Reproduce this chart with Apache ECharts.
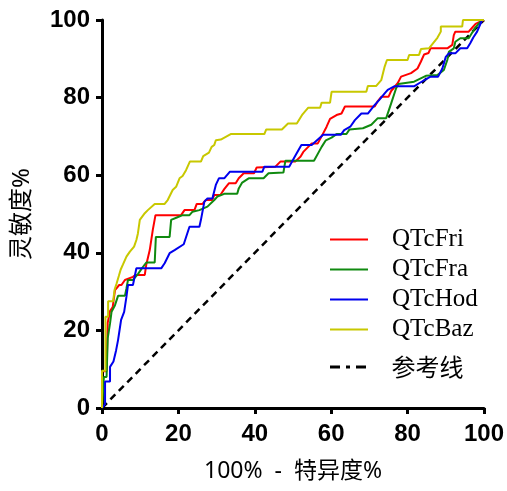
<!DOCTYPE html>
<html>
<head>
<meta charset="utf-8">
<script src="https://cdn.jsdelivr.net/npm/echarts@6/dist/echarts.min.js"></script>
<style>html,body{margin:0;padding:0;background:#fff}#c{width:507px;height:491px}</style>
</head>
<body>
<div id="c"></div>
<script>
var seriesNames = ['QTcFri', 'QTcFra', 'QTcHod', 'QTcBaz', '参考线'];
var xTicks = [0, 20, 40, 60, 80, 100];
var yTicks = [0, 20, 40, 60, 80, 100];

var fri = [[0,0],[0,9.5],[1.2,9.5],[1.5,22],[2.1,25],[2.8,26],[3.4,30.4],[4.5,31.7],[5.1,31.7],[6,33],[8.1,33.8],[8.8,34.3],[11.2,34.3],[11.6,37],[12.5,40.7],[13.3,45.9],[14,49.7],[20.7,49.7],[21.6,51],[24.2,51],[24.8,52.6],[26.3,52.6],[27.2,53.6],[28.8,53.6],[29.4,54.9],[31,54.9],[32,56.4],[33.2,57.9],[35,57.9],[35.8,59.2],[37.1,60.5],[39.8,60.5],[40.5,62],[45.4,62.2],[46.7,63.5],[50.6,63.5],[52,64.8],[52.7,66],[54.9,68.2],[56.5,68.2],[57.7,70.4],[58.8,72.5],[59.7,74.5],[61.4,75.5],[62.7,75.9],[63.6,77.7],[71.4,77.7],[72.2,79.1],[73.1,80.2],[75,80.2],[75.7,81.7],[77.4,83.7],[78.3,85.4],[80.9,86.3],[82.6,87.5],[83.5,89.3],[84.3,91.1],[85.5,91.5],[86,92.7],[90.4,92.7],[91.7,93.6],[92.1,96.1],[92.5,97],[96,97],[96.9,98],[97.8,99],[99,99.6],[100,100]];

var fra = [[0,0],[0.5,8],[1.2,8],[1.5,18],[2.1,21.8],[2.5,24.8],[3.4,26.5],[4.2,28.9],[6,28.9],[6.4,30.8],[6.8,33],[8.1,33],[9.4,34.5],[10.3,35.8],[11.6,37.5],[13.8,37.5],[14.1,44.1],[17.7,44.1],[18.1,48.5],[19.6,49.1],[21.1,49.7],[22.9,49.7],[23.7,50.6],[25.5,51],[27.6,51.9],[29.4,53.6],[30.2,54.5],[32,55.2],[35.4,55.2],[35.8,56.6],[36.7,58.1],[38.4,59.2],[42.3,59.2],[43.6,60.5],[44.1,60.7],[47.5,60.7],[48,63.7],[55.5,63.7],[57.5,67.3],[58.6,69],[60.1,69.7],[61.4,70.6],[64,70.6],[64.8,71.8],[68.3,72.1],[70.5,73],[72.2,74.7],[74.4,74.7],[75.7,78.5],[77,82.4],[77.6,83.5],[81.7,84.1],[84.8,85.6],[87.8,85.8],[89.5,87.1],[90.4,89.7],[90.8,91.8],[92.1,92.7],[92.5,94.4],[93.8,95.3],[96,95.3],[97.7,98],[99.5,100],[100,100]];

var hod = [[0,0],[0.8,1],[0.8,6.8],[2.1,6.8],[2.1,10.6],[3,12],[3.4,12.4],[3.7,14.9],[4.2,17.5],[4.6,20.1],[5,22.7],[5.8,24.8],[6.4,28.7],[6.8,31.7],[8.1,31.7],[9,36],[15.5,36],[16.4,37.3],[17.7,39.9],[19,40.7],[21.4,42.2],[22.9,46.7],[25.5,46.7],[25.9,48.5],[26.8,53.2],[27.6,54],[28.9,54],[29.8,57.5],[30.6,59.2],[32,59.2],[33.5,60.9],[42,60.9],[42.5,62.2],[49,62.2],[50.6,65],[52.2,67.8],[54.9,67.8],[57.9,70.4],[62.5,70.4],[63.4,71.6],[65,72.5],[66.2,74.2],[67.9,75.9],[69.6,75.9],[71.4,78.1],[72.6,79.4],[74,81.1],[74.8,82],[76.5,82.9],[81.7,82.9],[83,83.7],[86,85.4],[88,85.4],[89.1,87.5],[90,90.5],[90.8,91.4],[92.5,91.4],[93.8,92.7],[95.6,92.7],[96.4,94],[97.2,95.5],[98.2,97],[99.5,100],[100,100]];

var baz = [[0,0],[0,9.6],[0.9,9.6],[0.9,23.5],[1.6,23.5],[1.6,27.5],[2.9,27.5],[3.3,30.5],[3.8,32],[4.4,34],[4.9,35.7],[5.5,37],[6.4,39],[7.3,40.3],[8.4,41.6],[9,43.3],[9.4,45],[9.9,48.5],[11.2,50.2],[12,51],[13.8,52.6],[16.4,52.6],[17.2,53.6],[18.5,56.2],[19.4,57],[20.3,59.2],[21.1,59.8],[22,61.3],[23,63.5],[25.9,63.5],[26.5,64.9],[28,65.8],[28.7,67.3],[29.4,67.8],[29.8,69],[31.1,69.2],[33.7,70.6],[42.5,70.6],[43,71.8],[47.1,71.8],[48.7,73.3],[51,73.3],[52.5,75.7],[54,77.4],[57.1,77.4],[57.5,78.7],[59.7,78.7],[60.1,81.5],[69.2,81.5],[69.6,83],[71.8,83],[73.1,84.5],[74,88],[74.6,89.7],[80,89.7],[80.4,91],[83,91],[83.5,92.5],[85.6,92.7],[87.8,95.4],[88.7,97],[88.7,98.3],[94.3,98.3],[94.5,100],[100,100]];

var refLine = [[0,0],[100,100]];

var chart = echarts.init(document.getElementById('c'), null, {renderer: 'canvas'});
var colors = ['#ff0000', '#108a10', '#0000ee', '#c8c800', '#000000'];
function mk(name, data, color, extra) {
  var s = {
    name: name, type: 'line', data: data, symbol: 'none', smooth: false,
    lineStyle: {color: color, width: 2}, itemStyle: {color: color},
    animation: false, silent: true
  };
  if (extra) for (var k in extra) s[k] = extra[k];
  return s;
}
var solidIcon = 'path://M0,0H38V2H0Z';
var dashDotIcon = 'path://M0,0H10V3H0Z M16,0H20V3H16Z M26,0H36V3H26Z';
var tickLabel = {fontSize: 24, fontWeight: 'bold', color: '#000', fontFamily: 'Liberation Sans, Arial, sans-serif'};
chart.setOption({
  animation: false,
  backgroundColor: '#fff',
  grid: {left: 102, right: 20, top: 20, bottom: 83},
  legend: [{
    orient: 'vertical', left: 325, top: 222,
    itemWidth: 38, itemHeight: 2, itemGap: 5,
    icon: solidIcon,
    data: seriesNames.slice(0, 4),
    textStyle: {fontSize: 25, color: '#000', fontFamily: 'Liberation Serif, Times New Roman, serif', padding: [0, 0, 0, 19]},
    selectedMode: false
  }, {
    orient: 'vertical', left: 325, top: 350,
    itemWidth: 37, itemHeight: 3,
    icon: dashDotIcon,
    data: ['参考线'],
    textStyle: {fontSize: 24, color: '#000', fontFamily: 'Noto Sans CJK SC, sans-serif', padding: [0, 0, 0, 20]},
    selectedMode: false
  }],
  xAxis: {
    type: 'value', min: xTicks[0], max: xTicks[xTicks.length - 1], interval: 20,
    name: '100%  -  特异度%', nameLocation: 'middle', nameGap: 52,
    nameTextStyle: {fontSize: 23, color: '#000', fontFamily: 'Noto Sans, Noto Sans CJK SC, sans-serif'},
    axisLine: {lineStyle: {color: '#000', width: 3}},
    axisTick: {show: true, length: 6, lineStyle: {color: '#000', width: 3}},
    axisLabel: Object.assign({margin: 14}, tickLabel),
    splitLine: {show: false}
  },
  yAxis: {
    type: 'value', min: yTicks[0], max: yTicks[yTicks.length - 1], interval: 20,
    name: '灵敏度%', nameLocation: 'middle', nameGap: 68,
    nameTextStyle: {fontSize: 24, color: '#000', fontFamily: 'Noto Sans, Noto Sans CJK SC, sans-serif'},
    axisLine: {lineStyle: {color: '#000', width: 3}},
    axisTick: {show: true, length: 6, lineStyle: {color: '#000', width: 3}},
    axisLabel: Object.assign({margin: 12}, tickLabel),
    splitLine: {show: false}
  },
  series: [
    mk(seriesNames[4], refLine, colors[4], {lineStyle: {color: '#000', width: 2.5, type: [7, 5]}, z: 1}),
    mk(seriesNames[0], fri, colors[0]),
    mk(seriesNames[1], fra, colors[1]),
    mk(seriesNames[2], hod, colors[2]),
    mk(seriesNames[3], baz, colors[3])
  ]
});
</script>
</body>
</html>
